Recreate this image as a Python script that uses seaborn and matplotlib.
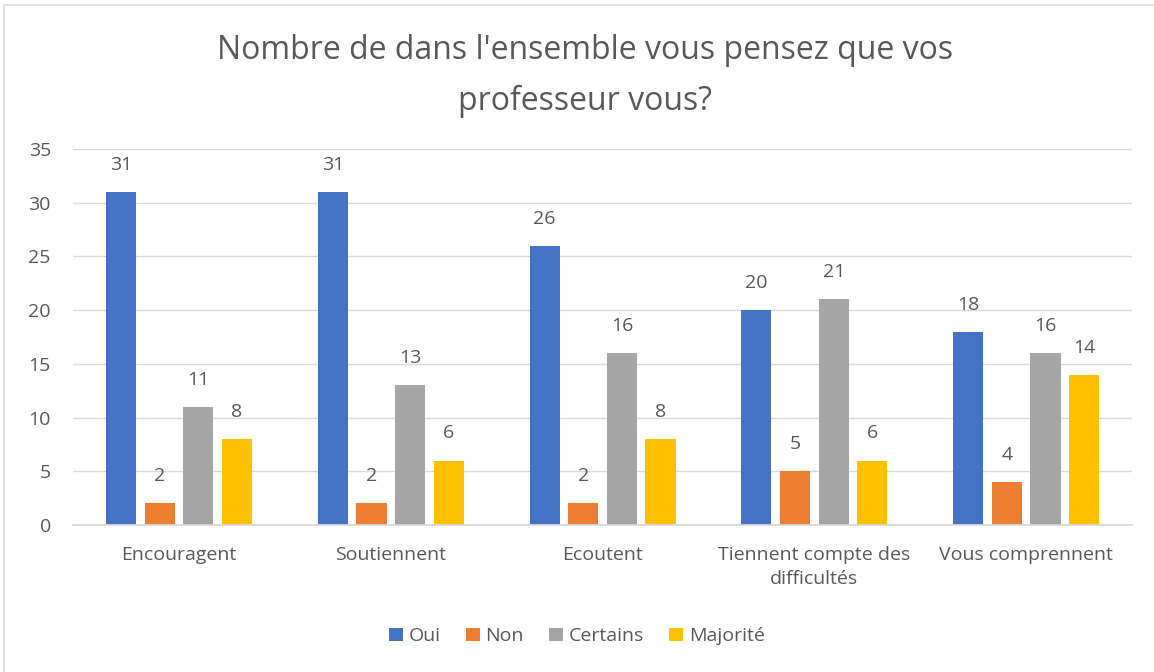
import matplotlib
matplotlib.use("Agg")
import matplotlib.pyplot as plt
import seaborn as sns
import pandas as pd
from matplotlib.patches import Rectangle

sns.set_theme(style="white")
plt.rcParams['font.family'] = ['Open Sans', 'DejaVu Sans']

# Data
categories = ["Encouragent", "Soutiennent", "Ecoutent",
              "Tiennent compte des\ndifficultés", "Vous comprennent"]
series = ["Oui", "Non", "Certains", "Majorité"]
oui = [31, 31, 26, 20, 18]
non = [2, 2, 2, 5, 4]
certains = [11, 13, 16, 21, 16]
majorite = [8, 6, 8, 6, 14]
colors = ["#4472C4", "#ED7D31", "#A5A5A5", "#FFC000"]

rows = []
for name, vals in zip(series, [oui, non, certains, majorite]):
    for c, v in zip(categories, vals):
        rows.append({"cat": c, "serie": name, "val": v})
df = pd.DataFrame(rows)

text_col = "#595959"

fig = plt.figure(figsize=(11.54, 6.72), dpi=100)
ax = fig.add_axes([0.0633, 0.2188, 0.9177, 0.5595])

sns.barplot(data=df, x="cat", y="val", hue="serie", order=categories,
            hue_order=series, palette=colors, width=0.73, gap=0.22,
            saturation=1, linewidth=0, ax=ax, legend=True)

for cont in ax.containers:
    ax.bar_label(cont, padding=13, fontsize=14, color=text_col)

ax.set_ylim(0, 35)
ax.set_xlim(-0.5, 4.5)
ax.set_yticks(range(0, 36, 5))
ax.yaxis.grid(True, color="#D9D9D9", linewidth=1)
ax.set_axisbelow(True)
for s in ["top", "right", "left"]:
    ax.spines[s].set_visible(False)
ax.spines["bottom"].set_color("#D9D9D9")
ax.set_xlabel("")
ax.set_ylabel("")
ax.tick_params(axis="both", length=0, labelsize=14, labelcolor=text_col)
ax.tick_params(axis="y", pad=16)
ax.tick_params(axis="x", pad=15)
for lab in ax.get_xticklabels():
    lab.set_linespacing(1.45)

fig.text(0.507, 0.887, "Nombre de dans l'ensemble vous pensez que vos\nprofesseur vous?",
         ha="center", va="center", fontsize=23, color=text_col, linespacing=1.7)

ax.legend(loc="center", bbox_to_anchor=(0.5, 0.053), bbox_transform=fig.transFigure,
          ncol=4, frameon=False, fontsize=14, handlelength=0.7, handleheight=0.7,
          handletextpad=0.3, columnspacing=1.3, labelcolor=text_col)

fig.patches.append(Rectangle((4 / 1154, -0.01), 1.2, 1 - 5 / 672 + 0.01,
                             transform=fig.transFigure, fill=False,
                             edgecolor="#D9D9D9", linewidth=1.2))

fig.savefig("out.png", dpi=100)
